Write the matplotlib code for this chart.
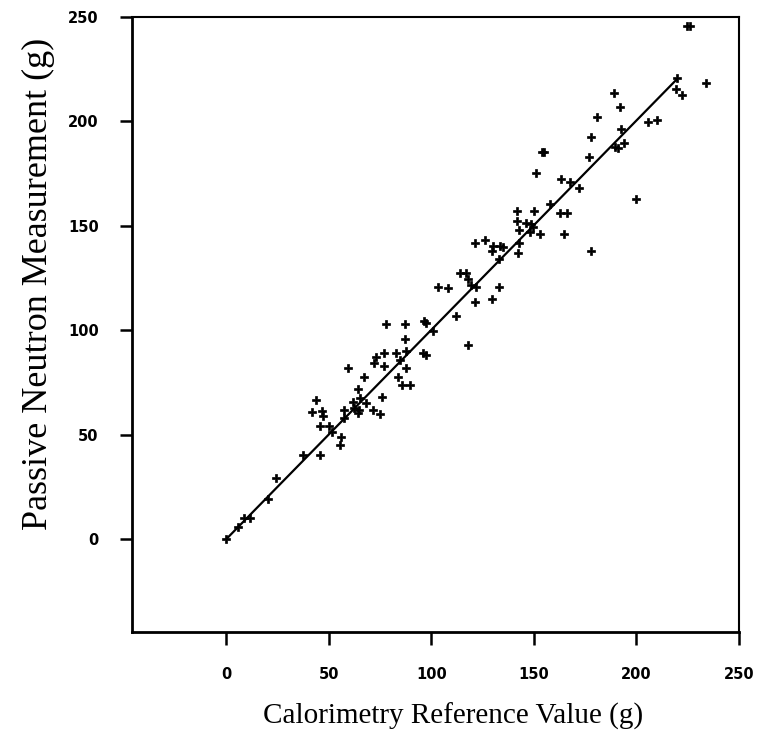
import numpy as np
import matplotlib
matplotlib.use("Agg")
import matplotlib.pyplot as plt

# calorimetry reference (x) vs passive neutron measurement (y), grams
calor_x = [0, 5.5, 8.8, 11.5, 20.5, 24.4, 37.4, 45.7, 41.7, 43.5, 46.6, 47.3, 45.6,
           50.3, 51.5, 55.2, 56, 57.6, 62.5, 64.9, 64.1, 71.4, 74.7, 57.6, 59.2, 66.9,
           61.7, 65.3, 68.2, 76, 64.1, 78, 86.9, 96.2, 97.5, 86.9, 76.8, 73.1, 71.8,
           77, 82.9, 87.7, 84.5, 95.9, 97.2, 87.7, 83.6, 85.8, 89.8, 100.7, 112.2,
           117.8, 103.2, 108.1, 113.8, 117, 117.8, 119.5, 121.6, 132.8, 121.1, 129.7,
           133, 121.1, 126, 130, 133.3, 129.7, 134.9, 142.7, 142.2, 141.8, 141.8, 146,
           142.7, 148.8, 149.6, 148.3, 152.8, 149.9, 150.9, 154.1, 155, 157.7, 162.6,
           165.9, 164.6, 163.4, 167.8, 171.9, 177.6, 176.8, 177.6, 180.8, 189, 192.2,
           192.7, 193.8, 189.5, 191.1, 199.7, 205.7, 210.1, 219.9, 219.2, 222, 224.8,
           226.1, 233.9]
neutron_y = [0, 5.6, 9.9, 10.2, 19.3, 29.1, 40.2, 40.2, 61, 66.8, 61.5, 59, 54,
             54, 51.5, 45, 49, 61.8, 62.6, 61.8, 60.2, 61.8, 59.9, 57.8, 81.8, 77.7,
             65.8, 67.4, 65, 67.9, 71.7, 103, 103, 104.5, 103.3, 95.6, 88.9, 87.3, 84.1,
             82.9, 88.9, 90.2, 85.7, 89.2, 88.1, 81.8, 77.7, 73.8, 73.8, 99.8, 106.9,
             92.8, 120.8, 120.1, 127.2, 127.5, 124.4, 121.6, 120.8, 120.8, 113.6, 114.8,
             134, 141.9, 143.2, 140.3, 140.3, 138.1, 140, 141.9, 136.8, 157.2, 152.4, 151.2,
             148, 150.9, 149.6, 147.2, 146.1, 157.2, 175.4, 185.5, 185.2, 160.3, 156,
             156, 146.1, 172.3, 171.1, 168.3, 138.1, 183.1, 192.7, 202, 213.7, 206.7,
             196.2, 189.5, 187.9, 187.4, 162.7, 199.6, 200.7, 220.6, 215.4, 212.6, 245.8,
             245.8, 218.5]

# fitted line end points
fit_x = [0, 220]
fit_y = [0, 220.5]

ticks = [0, 50, 100, 150, 200, 250]

fig = plt.figure(figsize=(7.59, 7.43), dpi=100)
ax = fig.add_axes([132 / 759, 1 - 632 / 743, (739 - 132) / 759, (632 - 17) / 743])

ax.plot(calor_x, neutron_y, linestyle='none', marker='P', markersize=6.2,
        color='black', markeredgewidth=0.5)
ax.plot(fit_x, fit_y, color='black', linewidth=1.6)

ax.set_xlim(-46, 250)
ax.set_ylim(-44.5, 250)
ax.set_xticks(ticks)
ax.set_yticks(ticks)
ax.set_xticklabels([str(t) for t in ticks], fontweight='heavy', fontsize=10.5)
ax.set_yticklabels([str(t) for t in ticks], fontweight='heavy', fontsize=10.5)
ax.tick_params(axis='x', direction='out', length=9, width=1.8, pad=16)
ax.tick_params(axis='y', direction='out', length=9, width=1.8, pad=15)

for side in ['left', 'bottom']:
    ax.spines[side].set_linewidth(2)
for side in ['top', 'right']:
    ax.spines[side].set_linewidth(1.5)

fig.text(453 / 759, 1 - 716 / 743, 'Calorimetry Reference Value (g)',
         family='Liberation Serif', fontsize=21, ha='center', va='center')
fig.text(38 / 759, 1 - 284 / 743, 'Passive Neutron Measurement (g)',
         family='Liberation Serif', fontsize=26, ha='center', va='center',
         rotation=90)

fig.savefig('out.png', dpi=100)
